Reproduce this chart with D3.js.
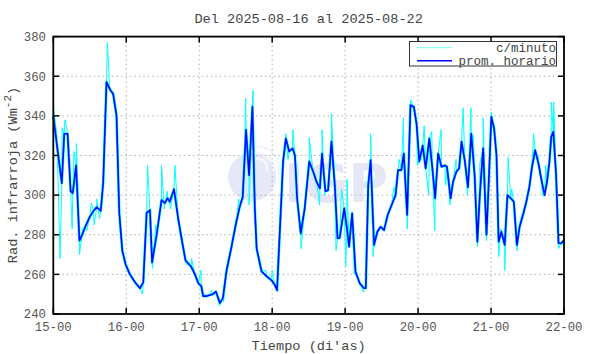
<!DOCTYPE html>
<html><head><meta charset="utf-8">
<script src="https://cdn.jsdelivr.net/npm/d3@7"></script>
<style>body{margin:0;background:#fff}svg{display:block}</style>
</head><body>
<svg id="c" width="590" height="354"></svg>
<script>
const titleText = "Del 2025-08-16 al 2025-08-22";
const xTickLabels = ["15-00","16-00","17-00","18-00","19-00","20-00","21-00","22-00"];
const yTicks = [240,260,280,300,320,340,360,380];
const seriesNames = ["c/minuto","prom. horario"];

// hourly average: time (hours since 15-00) and value (W/m2)
const hourTimes = [0,1.3,2.8,3.6,4.7,5.7,6.4,7.5,8.6,9.5,10.5,12,13.2,14.3,15.6,16.4,17.5,18.8,19.7,20.8,21.7,22.7,23.8,
25.2,26.9,28.5,29.6,30.7,31.8,32.5,34,35.6,36.7,37.6,38.3,39.7,41.1,42.2,43.5,45.3,46.6,47.7,
48.7,49.3,50.3,51.5,52.5,53.5,54.8,55.8,57,58.5,60,61.3,62.3,63.4,64.4,65.5,66.3,66.9,68.5,70.2,71.8,
72.9,73.6,75.6,76.5,77.6,78.7,79.5,80.2,81.4,82.7,84.2,85.5,86.6,87.7,88.4,89.5,90.4,91.5,92.6,93.5,94.2,95.7,
96.6,97.3,98.3,99.4,100.8,102.2,102.8,103.6,104.4,105.5,106.6,107.7,108.8,110,111.3,112.6,113.4,114.5,115.3,116.4,117.5,118.6,119.5,
120.4,121.5,122.5,123.7,124.7,125.6,126.6,127.7,128.8,129.5,130.7,131.5,132.6,133.5,134.3,135.4,136.4,137.5,138.6,139.5,140.3,141.4,142.5,143.3,
144.1,145,145.8,146.5,147.4,148.5,149.4,150.5,151.5,152.5,153.4,154.5,155.6,156.6,157.4,158.5,159.6,160.7,161.6,162.4,163.2,163.8,164.5,165.4,166.2,167.1,168];
const hourValues = [340,324,306,331,331,302,301,315,277,280,284,289,292,294,292,306,357,353,351,340,291,272,265,
260,256,253,256,291,292.5,266,280,297.5,296,298.5,296.6,303,288,278,267,264,260,255.5,
254,249,249,249.6,250,251.3,245.5,248,262,273,285,294,299,333,310,344.6,293,273,261.5,259,257,
254.6,252,317,328.6,322,323.6,320,298.4,280.7,293.3,317,311.8,306.7,303.4,321,302,302.5,327,305,278.2,278.4,293.3,
283.2,274,290.8,261.5,255.5,253,253,305,317.7,274.8,281.5,284,282.3,290,295,300,312.6,312.6,321,290,345.4,344.6,336,
317,325,313.5,328.6,313.5,298.4,321,314.3,315,314.3,298.4,306.7,311.8,313.5,327,317,304,331,310,276.5,300,323.6,280,308.5,
339.5,333.7,320,276.5,281.5,274.8,300,298.4,296.6,274.8,284,290,296.6,304,313.5,322.7,316,306.7,300,306.7,316.8,329.4,332,310,275.7,275.7,277.3];

// per-minute extremes (time in hours, value)
const minuteTimes = [0,1.2,2.2,2.9,3.8,4.6,5.3,6.2,6.8,7.6,8.6,9.6,11,12.5,13.4,14.3,15.2,16.6,17.8,18.5,
29.3,31,32.6,33.7,35.6,36.5,37.5,38.5,40,43.7,45.5,48.6,50,52,54.7,
56,61,62.5,63.3,64.4,65.7,66.3,70,72,73.8,76.5,77.2,78.8,80,81.5,84.2,
85,87.6,88.4,89.3,91.5,93,94.8,96.2,96.6,99,102,104.4,105.2,107,
112,113.8,115.2,116.4,117.5,119.8,121,122,123.5,124.5,125.5,127.6,129,130.5,132.5,134.8,136.2,137.4,138.2,139.5,
140.3,141.4,142.5,144.1,145.3,146.5,147.2,148.5,149.6,150.8,152.5,154,156,158,159.5,160.8,162,163.8,164.6,165.6,166.2,167.5,168];
const minuteValues = [345,330,268,334,338,333,320,283,322,326,270,283,282,296,285,298,288,312,377,355,
250,315,263,285,315,293,302,293,315,265,268,262,250,252,244,
246,298,303,349,295,353,290,262,262,251,331,318,333,300,273,329,
318,295,333,300,341,272,303,264,308,260,251,331,269,283,
304,318,339,283,348,315,318,335,300,332,282,333,305,295,318,344,300,344,330,274,
316,339,277,342,330,269,283,262,319,303,272,290,300,331,320,300,315,347,347,305,273,275,279];

const svg = d3.select("#c");
const font = "'Liberation Mono','DejaVu Sans Mono',monospace";
const L = 53.3, R = 564, T = 36.6, B = 314;
const x = d3.scaleLinear().domain([0,168]).range([L,R]);
const y = d3.scaleLinear().domain([240,380]).range([B,T]);
const xTicks = xTickLabels.map((d,i)=>i*24);

// watermark
const wm = svg.append("g");
wm.append("circle").attr("cx",252).attr("cy",177).attr("r",24).attr("fill","#e6e8f8");
[8,14,20].forEach(r=>{
  wm.append("path").attr("d", d3.arc()({innerRadius:r, outerRadius:r+2.5, startAngle:-0.2, endAngle:1.9}))
    .attr("transform","translate(258,168)").attr("fill","#f5f6fd");
});
wm.append("text").attr("x",284).attr("y",202).attr("font-family","'DejaVu Sans',sans-serif")
  .attr("font-weight","bold").attr("font-size",54).attr("fill","#e6e6f6").text("IGP");

// grid
const grid = svg.append("g").attr("stroke","#b0b0b0").attr("stroke-width",1).attr("stroke-dasharray","1.5,3");
xTicks.slice(1,-1).forEach(t=>grid.append("line").attr("x1",x(t)).attr("x2",x(t)).attr("y1",T).attr("y2",B));
yTicks.slice(1,-1).forEach(t=>grid.append("line").attr("x1",L).attr("x2",R).attr("y1",y(t)).attr("y2",y(t)));

// data
const hourPts = hourTimes.map((t,i)=>[t,hourValues[i]]);
const minutePts = hourPts
  .concat(minuteTimes.map((t,i)=>[t,minuteValues[i]]))
  .sort((a,b)=>a[0]-b[0]);
const line = d3.line().x(d=>x(d[0])).y(d=>y(d[1]));
svg.append("path").datum(minutePts).attr("d",line).attr("fill","none")
  .attr("stroke","#00ffff").attr("stroke-width",1).attr("stroke-linejoin","round");
svg.append("path").datum(hourPts).attr("d",line).attr("fill","none")
  .attr("stroke","#00ffff").attr("stroke-width",2.7).attr("stroke-linejoin","round");
svg.append("path").datum(hourPts).attr("d",line).attr("fill","none")
  .attr("stroke","#0000ff").attr("stroke-width",1.6).attr("stroke-linejoin","round");

// axes (ticks inward on all sides)
const tl = 6;
const ax = svg.append("g").attr("stroke","#000").attr("stroke-width",1.5);
xTicks.forEach(t=>{
  ax.append("line").attr("x1",x(t)).attr("x2",x(t)).attr("y1",B).attr("y2",B-tl);
  ax.append("line").attr("x1",x(t)).attr("x2",x(t)).attr("y1",T).attr("y2",T+tl);
});
yTicks.forEach(t=>{
  ax.append("line").attr("x1",L).attr("x2",L+tl).attr("y1",y(t)).attr("y2",y(t));
  ax.append("line").attr("x1",R).attr("x2",R-tl).attr("y1",y(t)).attr("y2",y(t));
});
svg.append("rect").attr("x",L).attr("y",T).attr("width",R-L).attr("height",B-T)
  .attr("fill","none").attr("stroke","#000").attr("stroke-width",1.8);

const tc = "#555";
xTicks.forEach((t,i)=>svg.append("text").attr("x",x(t)).attr("y",331).attr("text-anchor","middle")
  .attr("font-family",font).attr("font-size",12.3).attr("fill",tc).text(xTickLabels[i]));
yTicks.forEach(t=>svg.append("text").attr("x",46).attr("y",y(t)).attr("dy","0.35em").attr("text-anchor","end")
  .attr("font-family",font).attr("font-size",12.3).attr("fill",tc).text(t));

svg.append("text").attr("x",(L+R)/2).attr("y",23).attr("text-anchor","middle")
  .attr("font-family",font).attr("font-size",13.6).attr("fill","#444").text(titleText);
svg.append("text").attr("x",(L+R)/2).attr("y",350).attr("text-anchor","middle")
  .attr("font-family",font).attr("font-size",13.6).attr("fill","#444").text("Tiempo (di'as)");
const yl = svg.append("text").attr("transform","translate(17,175) rotate(-90)").attr("text-anchor","middle")
  .attr("font-family",font).attr("font-size",13.6).attr("fill","#444");
yl.append("tspan").text("Rad. infrarroja (Wm");
yl.append("tspan").attr("dy",-6).attr("font-size",11).text("-2");
yl.append("tspan").attr("dy",6).text(")");

// legend
const lg = svg.append("g");
lg.append("rect").attr("x",409.5).attr("y",41.5).attr("width",147).attr("height",24.5)
  .attr("fill","#fff").attr("stroke","#333").attr("stroke-width",1);
const lc = ["#00ffff","#0000ff"], lw=[1,1.6];
seriesNames.forEach((n,i)=>{
  const yy = 47.7 + i*13;
  lg.append("line").attr("x1",417).attr("x2",452).attr("y1",yy).attr("y2",yy)
    .attr("stroke",lc[i]).attr("stroke-width",lw[i]).attr("opacity", i==0?0.55:1);
  lg.append("text").attr("x",556).attr("y",yy).attr("dy","0.35em").attr("text-anchor","end")
    .attr("font-family",font).attr("font-size",12.5).attr("fill","#444").text(n);
});
</script>
</body></html>
